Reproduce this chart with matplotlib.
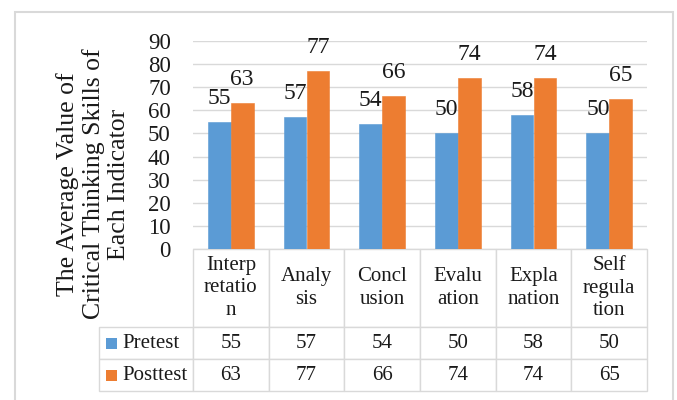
import matplotlib
matplotlib.use("Agg")
import matplotlib.pyplot as plt
from matplotlib.patches import Rectangle

categories = ["Interp\nretatio\nn", "Analy\nsis", "Concl\nusion", "Evalu\nation", "Expla\nnation", "Self\nregula\ntion"]
series_names = ["Pretest", "Posttest"]
pretest = [55, 57, 54, 50, 58, 50]
posttest = [63, 77, 66, 74, 74, 65]
y_ticks = [0, 10, 20, 30, 40, 50, 60, 70, 80, 90]
y_label = "The Average Value of\nCritical Thinking Skills of\nEach Indicator"

colors = ["#5B9BD5", "#ED7D31"]
grid_c = "#D9D9D9"
txt_c = "#1a1a1a"

plt.rcParams['font.family'] = ['Liberation Serif', 'DejaVu Serif']

W, H = 677, 400
fig = plt.figure(figsize=(W / 100, H / 100), dpi=100)

def fx(px):
    return px / W

def fy(py):
    return 1 - py / H

ax_l, ax_r, ax_t, ax_b = 193, 647, 41, 249
ax = fig.add_axes([fx(ax_l), fy(ax_b), (ax_r - ax_l) / W, (ax_b - ax_t) / H])

n = len(categories)
xs = list(range(n))
bw = 0.30
for si, (vals, col) in enumerate(zip([pretest, posttest], colors)):
    off = (si - 0.5) * bw
    ax.bar([x + off for x in xs], vals, width=bw, color=col, edgecolor=col,
           linewidth=0.4, zorder=3 + si)
    for x, v in zip(xs, vals):
        ax.annotate(str(v), (x + off, v), xytext=(0, 13), textcoords='offset points',
                    ha='center', va='baseline', fontsize=17, color=txt_c, zorder=6)

ax.set_xlim(-0.5, n - 0.5)
ax.set_ylim(y_ticks[0], y_ticks[-1])
ax.set_yticks(y_ticks)
ax.set_yticklabels([str(t) for t in y_ticks])
ax.tick_params(axis='y', length=0, pad=16, labelsize=16.5, labelcolor=txt_c)
ax.set_xticks([])
for s in ax.spines.values():
    s.set_visible(False)
ax.yaxis.grid(True, color=grid_c, linewidth=1, zorder=0)
ax.set_axisbelow(True)

# data table
tab_l, tab_b = 99, 391
col0_w = ax_l - tab_l
col_w = (ax_r - ax_l) / n
row_h = [327 - ax_b, 32, 32]
axw = ax_r - ax_l
axh = ax_b - ax_t
cell_text = [[""] + categories,
             [series_names[0]] + [str(v) for v in pretest],
             [series_names[1]] + [str(v) for v in posttest]]
tbl = ax.table(cellText=cell_text, cellLoc='center',
               bbox=[(tab_l - ax_l) / axw, -(tab_b - ax_b) / axh,
                     (ax_r - tab_l) / axw, (tab_b - ax_b) / axh])
tbl.auto_set_font_size(False)
tbl.set_fontsize(15)
for (r, c), cell in tbl.get_celld().items():
    cell.set_width(col0_w if c == 0 else col_w)
    cell.set_height(row_h[r])
    cell.set_edgecolor(grid_c)
    cell.set_linewidth(1.0)
    t = cell.get_text()
    t.set_color(txt_c)
    t.set_linespacing(1.28)
    if r == 0 and c == 0:
        cell.visible_edges = ''
    if c == 0 and r > 0:
        t.set_horizontalalignment('left')
        cell.PAD = 23 / col0_w

# legend swatches in table
for i, col in enumerate(colors):
    yc = ax_b + row_h[0] + row_h[1] * (i + 0.5)
    fig.add_artist(Rectangle((fx(106), fy(yc + 5.5)), 11 / W, 11 / H,
                             transform=fig.transFigure, facecolor=col, edgecolor='none'))

fig.text(fx(93), fy(184), y_label, rotation=90, ha='center', va='center',
         fontsize=18.5, color=txt_c, linespacing=1.2, multialignment='center')

# outer frame
fig.add_artist(Rectangle((fx(15), fy(405)), (673 - 15) / W, (405 - 12) / H,
                         transform=fig.transFigure, fill=False, edgecolor=grid_c, linewidth=1.5))

fig.savefig("out.png", dpi=100)
